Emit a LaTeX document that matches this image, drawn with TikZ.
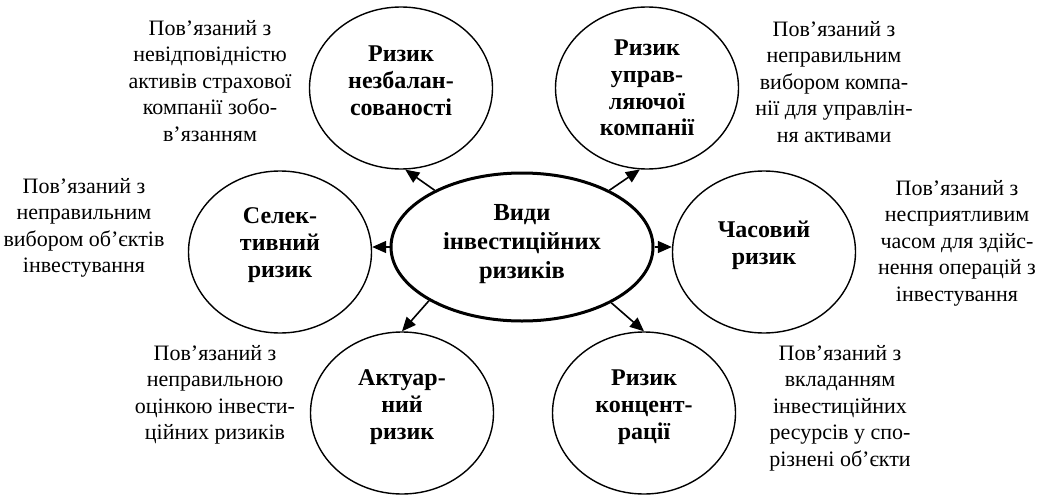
\documentclass[tikz,border=0pt]{standalone}
\usepackage{fontspec}
\setmainfont{Liberation Serif}
\usetikzlibrary{shapes.geometric,arrows.meta}
\begin{document}
\begin{tikzpicture}[x=1pt,y=-1pt,
  risk/.style={ellipse,draw,line width=1.4pt,minimum width=183pt,minimum height=162pt,inner sep=0pt},
  risktext/.style={align=center,inner sep=0pt,font=\fontsize{24}{26.8}\selectfont\bfseries},
  main/.style={ellipse,draw,line width=3pt,minimum width=262pt,minimum height=148pt,inner sep=0pt},
  maintext/.style={align=center,inner sep=0pt,font=\fontsize{24.5}{29}\selectfont\bfseries},
  desc/.style={align=center,inner sep=0pt,font=\fontsize{22}{26.5}\selectfont},
  arr/.style={line width=1.6pt,-{Triangle[length=14pt,width=12pt]}}]
\useasboundingbox (0,0) rectangle (1043,495);
\node[main] (c) at (522,247) {};
\node[maintext] (ct) at ([yshift=3pt]c.center) {Види\\інвестиційних\\ризиків};
\node[risk] (tl) at (401,88) {};
\node[risktext] (tlt) at ([yshift=7pt]tl.center) {Ризик\\незбалан-\\сованості};
\node[risk] (tr) at (647,88) {};
\node[risktext] (trt) at (tr.center) {Ризик\\управ-\\ляючої\\компанії};
\node[risk] (sl) at (280,252) {};
\node[risktext] (slt) at ([yshift=7pt]sl.center) {Селек-\\тивний\\ризик};
\node[risk] (sr) at (764,252) {};
\node[risktext] (srt) at ([yshift=7pt]sr.center) {Часовий\\ризик};
\node[risk] (bl) at (402,413) {};
\node[risktext] (blt) at ([yshift=6pt]bl.center) {Актуар-\\ний\\ризик};
\node[risk] (br) at (644,413) {};
\node[risktext] (brt) at ([yshift=6pt]br.center) {Ризик\\концент-\\рації};
\node[desc] (dtl) at (210,81) {Пов’язаний з\\невідповідністю\\активів страхової\\компанії зобо-\\в’язанням};
\node[desc] (dtr) at (834,82) {Пов’язаний з\\неправильним\\вибором компа-\\нії для управлін-\\ня активами};
\node[desc] (dsl) at (84,228) {Пов’язаний з\\неправильним\\вибором об’єктів\\інвестування};
\node[desc] (dsr) at (957,243) {Пов’язаний з\\несприятливим\\часом для здійс-\\нення операцій з\\інвестування};
\node[desc] (dbl) at (215,395) {Пов’язаний з\\неправильною\\оцінкою інвести-\\ційних ризиків};
\node[desc] (dbr) at (840,408) {Пов’язаний з\\вкладанням\\інвестиційних\\ресурсів у спо-\\різнені об’єкти};
\draw[arr] (c.147) -- (tl.-87);
\draw[arr] (c.33) -- (tr.-95);
\draw[arr] (c.west) -- (c.west -| sl.east);
\draw[arr] (c.east) -- (c.east -| sr.west);
\draw[arr] (c.210) -- (bl.90);
\draw[arr] (c.-32) -- (br.90);
\end{tikzpicture}
\end{document}
